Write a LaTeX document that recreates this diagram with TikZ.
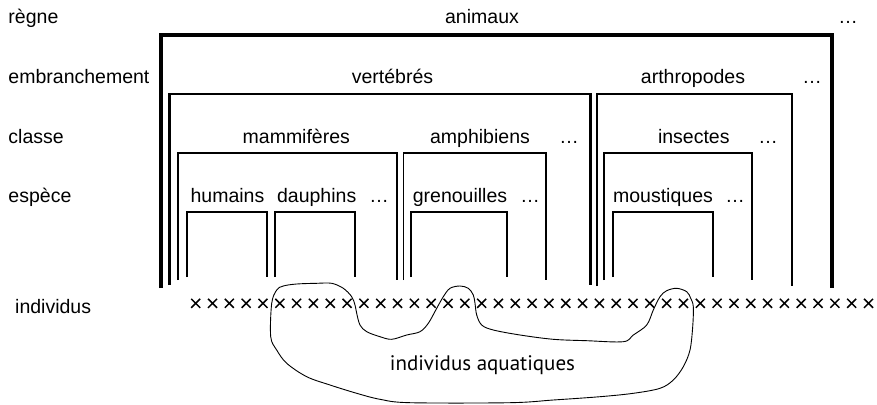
\documentclass[tikz,border=0pt]{standalone}
\usepackage{fontspec}
\setmainfont{Liberation Sans}
\newfontfamily\aquafont{PT Sans}
\usetikzlibrary{shapes.misc}

\begin{document}
\begin{tikzpicture}[x=1pt, y=-1pt,
  every node/.style={font=\fontsize{19.5}{23}\selectfont, inner sep=0pt},
  lbl/.style={anchor=base},
  gauche/.style={anchor=base west},
  regne/.style={line width=3.3pt},
  embr/.style={line width=2.4pt},
  classe/.style={line width=1.8pt},
  espece/.style={line width=1.1pt},
  croix/.style={cross out, draw, line width=1.5pt, minimum size=7.5pt}]
  \useasboundingbox (0,0) rectangle (877,404);
  % niveaux
  \node (lregne) [gauche] at (8.3,24) {règne};
  \node (lembr) [gauche] at (8.3,83.3) {embranchement};
  \node (lclasse) [gauche] at (8.3,143.3) {classe};
  \node (lespece) [gauche] at (8.3,202.5) {espèce};
  \node (lindiv) [gauche] at (15,313.3) {individus};
  % regne
  \draw[regne] (161,288) |- (832,35) -- (832,288);
  \node (animaux) [lbl] at (482,24) {animaux};
  \node (etc1) [lbl] at (848,24) {…};
  % embranchements
  \draw[embr] (169.5,285) |- (590.5,94) -- (590.5,285);
  \node (vertebres) [lbl] at (392.5,83.3) {vertébrés};
  \draw[embr] (597,286) |- (792,94) -- (792,286);
  \node (arthropodes) [lbl] at (693,83.3) {arthropodes};
  \node (etc2) [lbl] at (812,83.3) {…};
  % classes
  \draw[classe] (178,280) |- (397,153) -- (397,280);
  \node (mammiferes) [lbl] at (296.3,143.3) {mammifères};
  \draw[classe] (403.5,280) |- (546,153) -- (546,280);
  \node (amphibiens) [lbl] at (480,143.3) {amphibiens};
  \node (etc3) [lbl] at (569,143.3) {…};
  \draw[classe] (604,280) |- (752,153) -- (752,280);
  \node (insectes) [lbl] at (693.8,143.3) {insectes};
  \node (etc4) [lbl] at (768,143.3) {…};
  % especes
  \draw[espece] (187,277) |- (267,212) -- (267,277);
  \node (humains) [lbl] at (227.5,202.5) {humains};
  \draw[espece] (275,277) |- (355,212) -- (355,277);
  \node (dauphins) [lbl] at (316.7,202.5) {dauphins};
  \node (etc5) [lbl] at (379,202.5) {…};
  \draw[espece] (411,277) |- (507,212) -- (507,277);
  \node (grenouilles) [lbl] at (460,202.5) {grenouilles};
  \node (etc6) [lbl] at (530,202.5) {…};
  \draw[espece] (613,277) |- (713,212) -- (713,277);
  \node (moustiques) [lbl] at (663,202.5) {moustiques};
  \node (etc7) [lbl] at (735,202.5) {…};
  % individus
  \foreach \i in {0,...,40}
    \node (x\i) [croix] at ({195.7+16.82*\i},303.3) {};
  \draw[line width=0.9pt] plot[smooth cycle, tension=0.55] coordinates {
    (271.7,303.3) (276.7,290) (283.3,286) (296.7,284) (316.7,283.3) (331.7,283.3)
    (343.3,288.3) (351.7,296.7) (355,305) (356.7,313.3) (360,325) (366.7,331.7)
    (380,336.7) (391.7,339.3) (406.7,335) (420,331.7) (428.3,323.3) (436.7,308.3)
    (443.3,296.7) (450,288.3) (460,286) (468.3,288.3) (473.3,295) (475,303.3)
    (476.7,315) (481.7,325) (493.3,330) (520,335) (553.3,339.3) (586.7,340.7)
    (623.3,341.7) (633.3,335) (646.7,325) (653.3,310) (660,296.7) (666.7,290.7)
    (676.7,288.3) (686.7,291.7) (690.7,298.3) (693.3,306.7) (692.7,326.7) (690,350)
    (683.3,366.7) (673.3,380) (660,388.3) (633.3,393.3) (600,396.7) (553.3,400)
    (510,402.7) (410,402.7) (380,399.3) (356.7,393.3) (330,385) (306.7,376.7)
    (286.7,363.3) (276.7,350) (270.7,336.7)};
  \node (aquatiques) [lbl, font=\aquafont\fontsize{21}{25}\selectfont] at (482.5,370) {individus aquatiques};
\end{tikzpicture}
\end{document}
